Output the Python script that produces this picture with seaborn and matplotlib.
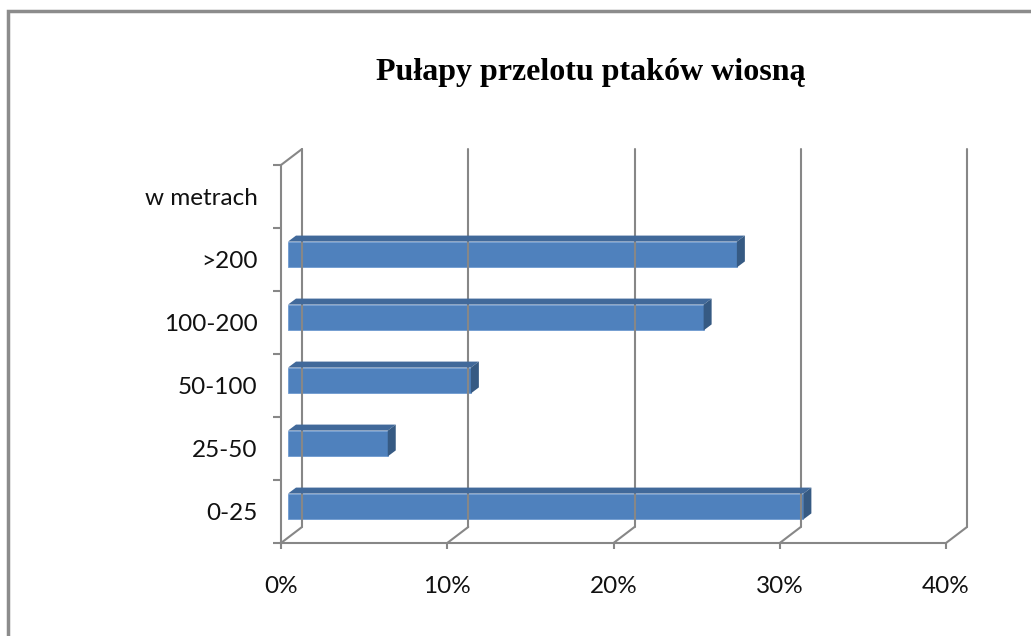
import numpy as np
import pandas as pd
import matplotlib
matplotlib.use("Agg")
import matplotlib.pyplot as plt
import matplotlib.transforms as mtransforms
from matplotlib.lines import Line2D
from matplotlib.patches import Polygon, Rectangle
from matplotlib.ticker import PercentFormatter
import seaborn as sns

# data
categories = ["0-25", "25-50", "50-100", "100-200", ">200"]
shares = [0.31, 0.06, 0.11, 0.25, 0.27]
order = ["w metrach", ">200", "100-200", "50-100", "25-50", "0-25"]
xticks = [0, 0.1, 0.2, 0.3, 0.4]

df = pd.DataFrame({"cat": categories, "share": shares})

sns.set_theme(style="white")
plt.rcParams["font.family"] = ["Lato", "DejaVu Sans"]

W, H = 1031, 636
fig = plt.figure(figsize=(W / 100, H / 100), dpi=100)
fig.patch.set_facecolor("white")
# front plane of the 3d box
ax = fig.add_axes([281 / W, (H - 543) / H, (946 - 281) / W, (543 - 165) / H])

grey = "#878787"
front = "#4F81BD"
top_c = "#41699A"
side_c = "#365A83"

# bars sit a little behind the front plane
bar_tr = mtransforms.offset_copy(ax.transData, fig, x=7, y=5, units="dots")
sns.barplot(data=df, x="share", y="cat", order=order, orient="h",
            color=front, width=0.41, saturation=1, ax=ax, zorder=3)
for p in ax.patches:
    p.set_transform(bar_tr)
    p.set_edgecolor("#6F9AD0")
    p.set_linewidth(0.6)

ax.set_xlim(0, 0.4)
ax.set_ylim(5.5, -0.5)
ax.set_xticks(xticks)
ax.xaxis.set_major_formatter(PercentFormatter(1, decimals=0))
ax.set_yticks(range(len(order)))
ax.set_yticklabels(order)
ax.set_yticks(np.arange(-0.5, 6, 1), minor=True)
ax.set_xlabel("")
ax.set_ylabel("")
ax.patch.set_alpha(0)
for s in ["top", "right"]:
    ax.spines[s].set_visible(False)
for s in ["left", "bottom"]:
    ax.spines[s].set_color(grey)
    ax.spines[s].set_linewidth(1.5)
ax.tick_params(axis="y", which="major", length=0, pad=17, labelsize=17.5, labelcolor="#111111")
ax.tick_params(axis="y", which="minor", left=True, length=6, width=1.5, color=grey)
ax.tick_params(axis="x", which="major", bottom=True, length=4.5, width=1.5, color=grey,
               pad=19, labelsize=17.5, labelcolor="#111111")

fig.canvas.draw()

# 3d box: back wall lines and floor diagonals
DX, DY = 21, 16
ident = mtransforms.IdentityTransform()


def px(x, y):
    return ax.transData.transform((x, y))


for t in xticks:
    fb = px(t, 5.5)
    bb = fb + [DX, DY]
    bt = px(t, -0.5) + [DX, DY]
    fig.add_artist(Line2D([bb[0], bt[0]], [bb[1], bt[1]], transform=ident,
                          color=grey, lw=1.5, zorder=1))
    fig.add_artist(Line2D([fb[0], bb[0]], [fb[1], bb[1]], transform=ident,
                          color=grey, lw=1.5, zorder=1))
ft = px(0, -0.5)
fig.add_artist(Line2D([ft[0], ft[0] + DX], [ft[1], ft[1] + DY], transform=ident,
                      color=grey, lw=1.5, zorder=1))

# top and side faces of the bars
BX, BY = 8, 6
for p in ax.patches:
    if not np.isfinite(p.get_width()) or p.get_width() <= 0:
        continue
    x0, y0 = p.get_x(), p.get_y()
    x1, y1 = x0 + p.get_width(), y0 + p.get_height()
    tl = px(x0, y0) + [7, 5]
    tr = px(x1, y0) + [7, 5]
    br = px(x1, y1) + [7, 5]
    off = np.array([BX, BY])
    fig.add_artist(Polygon([tl, tr, tr + off, tl + off], closed=True, transform=ident,
                           facecolor=top_c, edgecolor="none", zorder=4))
    fig.add_artist(Polygon([tr, br, br + off, tr + off], closed=True, transform=ident,
                           facecolor=side_c, edgecolor="none", zorder=4))

# title and outer frame
fig.text(591 / W, (H - 80) / H, "Pułapy przelotu ptaków wiosną",
         ha="center", va="baseline", fontsize=23, fontweight="bold",
         family=["Liberation Serif", "DejaVu Serif"], color="black")
fig.add_artist(Rectangle((8, -20), W + 20, H - 11 + 20, transform=ident,
                         fill=False, edgecolor="#8C8C8C", lw=2.5, zorder=10))

fig.savefig("out.png", dpi=100)
